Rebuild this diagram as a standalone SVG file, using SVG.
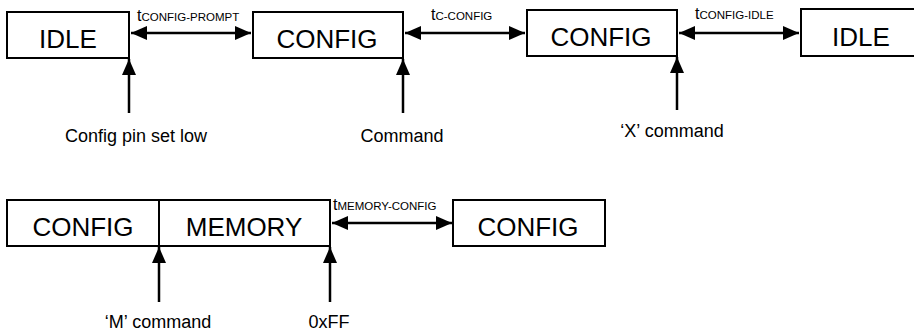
<svg xmlns="http://www.w3.org/2000/svg" width="914" height="336" viewBox="0 0 914 336">
  <defs>
    <marker id="head" markerUnits="userSpaceOnUse" viewBox="0 0 16 14" refX="16" refY="7" markerWidth="16" markerHeight="14" orient="auto-start-reverse">
      <path d="M0,0 L16,7 L0,14 Z" fill="#000"/>
    </marker>
    <style>
      .box { fill: #fff; stroke: #000; stroke-width: 2; }
      .state { font-family: "Liberation Sans", Arial, sans-serif; font-size: 26px; fill: #000; text-anchor: middle; }
      .lbl { font-family: "Liberation Sans", Arial, sans-serif; font-size: 18px; fill: #000; text-anchor: middle; }
      .tim { font-family: "Liberation Sans", Arial, sans-serif; font-size: 16px; fill: #000; }
      .sub { font-size: 11.5px; }
      .wire { fill: none; stroke: #000; stroke-width: 2.5; }
    </style>
  </defs>

  <rect width="914" height="336" fill="#fff"/>

  <!-- top sequence -->
  <g id="idle-start">
    <rect class="box" x="7" y="12" width="122" height="46"/>
    <text class="state" x="68" y="48">IDLE</text>
  </g>
  <g id="config-a">
    <rect class="box" x="253" y="12" width="150" height="46"/>
    <text class="state" x="327" y="48">CONFIG</text>
  </g>
  <g id="config-b">
    <rect class="box" x="527" y="10" width="150" height="46"/>
    <text class="state" x="601" y="46">CONFIG</text>
  </g>
  <g id="idle-end">
    <rect class="box" x="801" y="9" width="122" height="47"/>
    <text class="state" x="861" y="46">IDLE</text>
  </g>

  <!-- bottom sequence -->
  <g id="config-memory">
    <rect class="box" x="7" y="200" width="323" height="46"/>
    <line x1="159" y1="200" x2="159" y2="246" stroke="#000" stroke-width="2"/>
    <text class="state" x="83" y="236">CONFIG</text>
    <text class="state" x="244" y="236">MEMORY</text>
  </g>
  <g id="config-c">
    <rect class="box" x="453" y="200" width="152" height="46"/>
    <text class="state" x="528" y="236">CONFIG</text>
  </g>

  <g id="connectors">
    <!-- timing intervals -->
    <line class="wire" x1="131" y1="33" x2="251" y2="33" marker-start="url(#head)" marker-end="url(#head)"/>
    <line class="wire" x1="405" y1="33" x2="525" y2="33" marker-start="url(#head)" marker-end="url(#head)"/>
    <line class="wire" x1="679" y1="33" x2="799" y2="33" marker-start="url(#head)" marker-end="url(#head)"/>
    <line class="wire" x1="332" y1="223" x2="452" y2="223" marker-start="url(#head)" marker-end="url(#head)"/>

    <!-- triggers -->
    <line class="wire" x1="129" y1="113" x2="129" y2="59" marker-end="url(#head)"/>
    <line class="wire" x1="403" y1="113" x2="403" y2="59" marker-end="url(#head)"/>
    <line class="wire" x1="677" y1="110" x2="677" y2="57" marker-end="url(#head)"/>
    <line class="wire" x1="159" y1="302" x2="159" y2="247" marker-end="url(#head)"/>
    <line class="wire" x1="330" y1="302" x2="330" y2="247" marker-end="url(#head)"/>
  </g>

  <g id="labels">
    <text class="tim" x="137" y="21">t<tspan class="sub">CONFIG-PROMPT</tspan></text>
    <text class="tim" x="431" y="20">t<tspan class="sub">C-CONFIG</tspan></text>
    <text class="tim" x="695" y="19">t<tspan class="sub">CONFIG-IDLE</tspan></text>
    <text class="tim" x="333" y="210">t<tspan class="sub">MEMORY-CONFIG</tspan></text>

    <text class="lbl" x="136" y="142">Config pin set low</text>
    <text class="lbl" x="402" y="142">Command</text>
    <text class="lbl" x="672" y="137">‘X’ command</text>
    <text class="lbl" x="158" y="328">‘M’ command</text>
    <text class="lbl" x="329" y="328">0xFF</text>
  </g>
</svg>
